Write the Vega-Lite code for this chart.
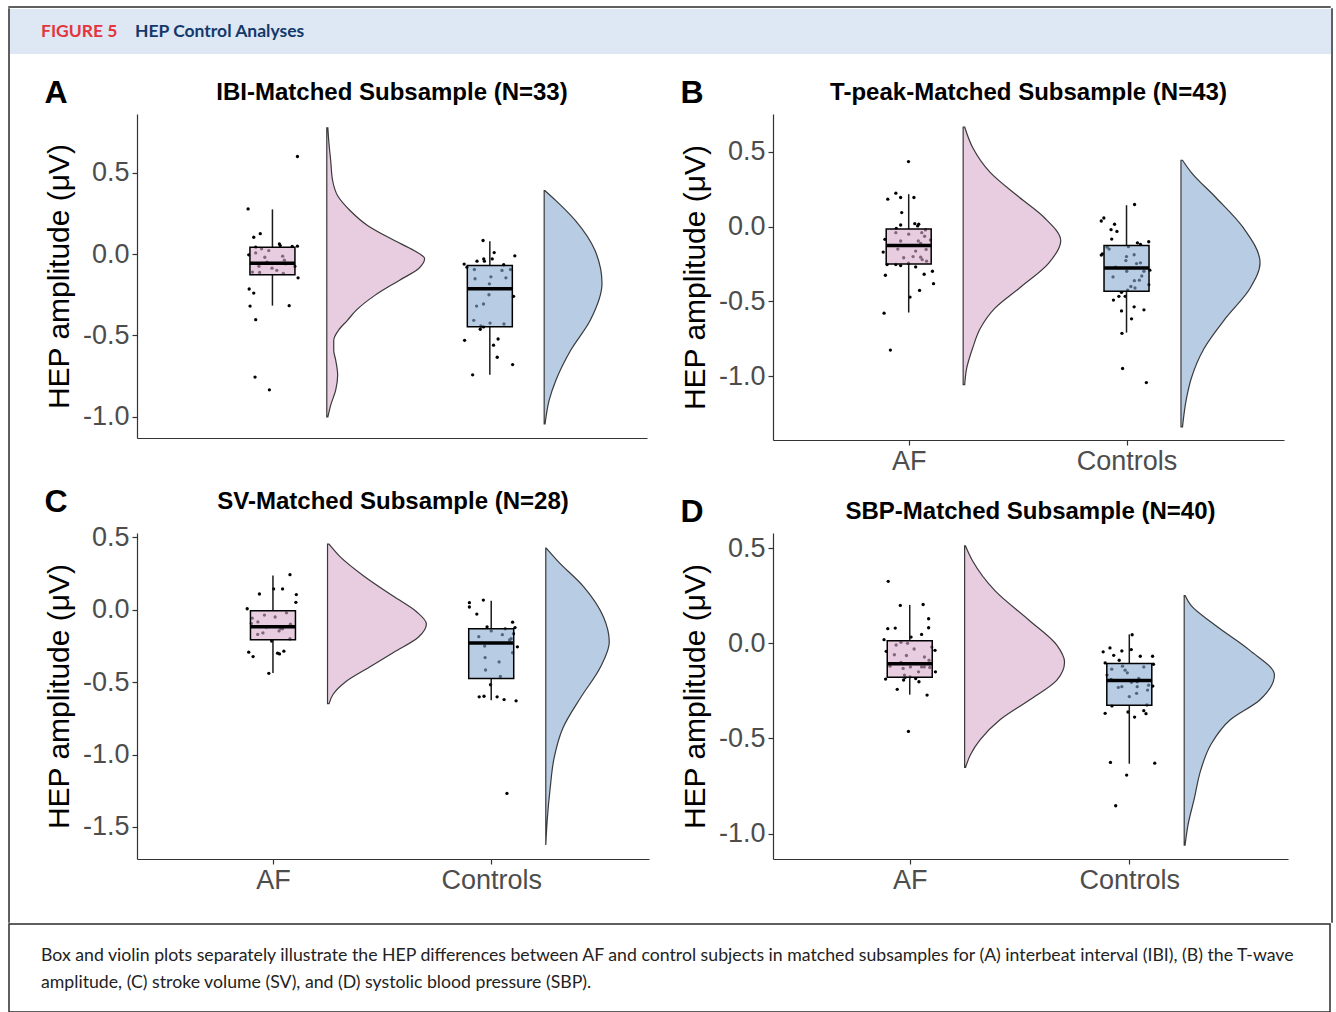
{
  "$schema": "https://vega.github.io/schema/vega-lite/v6.json",
  "background": "white",
  "padding": {"left": 8, "top": 6, "right": 0, "bottom": 0},
  "config": {
    "view": {"stroke": null},
    "concat": {"spacing": 0},
    "axis": {"grid": false, "domainColor": "#333333", "domainWidth": 1.2, "tickColor": "#333333", "tickWidth": 1.2, "tickSize": 5, "labelFont": "Liberation Sans", "labelFontSize": 27, "labelColor": "#4d4d4d", "labelPadding": 3, "titleFont": "Liberation Sans", "titleFontSize": 30, "titleFontWeight": "normal", "titleColor": "black", "titlePadding": 8},
    "title": {"font": "Liberation Sans", "fontSize": 24, "fontWeight": "bold", "color": "black", "offset": 9}
  },
  "datasets": {
    "points": [
      {"panel":"A","group":"AF","xpos":1.115,"hep":0.599},{"panel":"A","group":"AF","xpos":0.888,"hep":0.277},{"panel":"A","group":"AF","xpos":0.944,"hep":0.125},{"panel":"A","group":"AF","xpos":0.914,"hep":0.103},{"panel":"A","group":"AF","xpos":1.032,"hep":0.062},{"panel":"A","group":"AF","xpos":1.036,"hep":0.052},{"panel":"A","group":"AF","xpos":1.091,"hep":0.046},{"panel":"A","group":"AF","xpos":1.115,"hep":0.048},{"panel":"A","group":"AF","xpos":0.923,"hep":0.042},{"panel":"A","group":"AF","xpos":0.950,"hep":0.032},{"panel":"A","group":"AF","xpos":0.983,"hep":0.021},{"panel":"A","group":"AF","xpos":0.923,"hep":0.007},{"panel":"A","group":"AF","xpos":0.891,"hep":-0.005},{"panel":"A","group":"AF","xpos":1.047,"hep":-0.013},{"panel":"A","group":"AF","xpos":1.055,"hep":-0.038},{"panel":"A","group":"AF","xpos":1.103,"hep":-0.075},{"panel":"A","group":"AF","xpos":0.938,"hep":-0.075},{"panel":"A","group":"AF","xpos":0.998,"hep":-0.087},{"panel":"A","group":"AF","xpos":0.908,"hep":-0.111},{"panel":"A","group":"AF","xpos":0.941,"hep":-0.113},{"panel":"A","group":"AF","xpos":1.050,"hep":-0.119},{"panel":"A","group":"AF","xpos":1.118,"hep":-0.146},{"panel":"A","group":"AF","xpos":0.893,"hep":-0.215},{"panel":"A","group":"AF","xpos":0.914,"hep":-0.240},{"panel":"A","group":"AF","xpos":0.897,"hep":-0.320},{"panel":"A","group":"AF","xpos":1.077,"hep":-0.317},{"panel":"A","group":"AF","xpos":0.923,"hep":-0.403},{"panel":"A","group":"AF","xpos":0.920,"hep":-0.756},{"panel":"A","group":"AF","xpos":0.986,"hep":-0.834},{"panel":"A","group":"AF","xpos":0.965,"hep":-0.020},{"panel":"A","group":"AF","xpos":1.060,"hep":-0.060},{"panel":"A","group":"AF","xpos":1.020,"hep":-0.100},{"panel":"A","group":"AF","xpos":0.975,"hep":-0.050},
      {"panel":"A","group":"Controls","xpos":1.969,"hep":0.083},{"panel":"A","group":"Controls","xpos":2.020,"hep":0.009},{"panel":"A","group":"Controls","xpos":2.115,"hep":-0.011},{"panel":"A","group":"Controls","xpos":1.941,"hep":-0.044},{"panel":"A","group":"Controls","xpos":1.972,"hep":-0.030},{"panel":"A","group":"Controls","xpos":1.975,"hep":-0.044},{"panel":"A","group":"Controls","xpos":2.011,"hep":-0.030},{"panel":"A","group":"Controls","xpos":1.882,"hep":-0.062},{"panel":"A","group":"Controls","xpos":1.895,"hep":-0.081},{"panel":"A","group":"Controls","xpos":2.064,"hep":-0.066},{"panel":"A","group":"Controls","xpos":1.929,"hep":-0.095},{"panel":"A","group":"Controls","xpos":2.056,"hep":-0.101},{"panel":"A","group":"Controls","xpos":2.095,"hep":-0.095},{"panel":"A","group":"Controls","xpos":1.932,"hep":-0.152},{"panel":"A","group":"Controls","xpos":2.005,"hep":-0.140},{"panel":"A","group":"Controls","xpos":2.074,"hep":-0.146},{"panel":"A","group":"Controls","xpos":1.998,"hep":-0.183},{"panel":"A","group":"Controls","xpos":1.996,"hep":-0.250},{"panel":"A","group":"Controls","xpos":2.109,"hep":-0.260},{"panel":"A","group":"Controls","xpos":1.939,"hep":-0.320},{"panel":"A","group":"Controls","xpos":1.971,"hep":-0.307},{"panel":"A","group":"Controls","xpos":1.926,"hep":-0.407},{"panel":"A","group":"Controls","xpos":2.001,"hep":-0.424},{"panel":"A","group":"Controls","xpos":2.065,"hep":-0.430},{"panel":"A","group":"Controls","xpos":1.959,"hep":-0.442},{"panel":"A","group":"Controls","xpos":1.956,"hep":-0.462},{"panel":"A","group":"Controls","xpos":1.971,"hep":-0.448},{"panel":"A","group":"Controls","xpos":1.884,"hep":-0.530},{"panel":"A","group":"Controls","xpos":2.038,"hep":-0.522},{"panel":"A","group":"Controls","xpos":2.017,"hep":-0.560},{"panel":"A","group":"Controls","xpos":2.034,"hep":-0.634},{"panel":"A","group":"Controls","xpos":2.105,"hep":-0.679},{"panel":"A","group":"Controls","xpos":1.921,"hep":-0.742},
      {"panel":"B","group":"AF","xpos":0.999,"hep":0.435},{"panel":"B","group":"AF","xpos":0.941,"hep":0.224},{"panel":"B","group":"AF","xpos":0.904,"hep":0.184},{"panel":"B","group":"AF","xpos":0.963,"hep":0.195},{"panel":"B","group":"AF","xpos":1.024,"hep":0.195},{"panel":"B","group":"AF","xpos":0.968,"hep":0.094},{"panel":"B","group":"AF","xpos":1.028,"hep":0.020},{"panel":"B","group":"AF","xpos":1.046,"hep":0.016},{"panel":"B","group":"AF","xpos":0.963,"hep":0.011},{"panel":"B","group":"AF","xpos":1.041,"hep":0.005},{"panel":"B","group":"AF","xpos":0.943,"hep":-0.011},{"panel":"B","group":"AF","xpos":0.941,"hep":-0.040},{"panel":"B","group":"AF","xpos":1.060,"hep":-0.040},{"panel":"B","group":"AF","xpos":1.077,"hep":-0.022},{"panel":"B","group":"AF","xpos":1.073,"hep":-0.064},{"panel":"B","group":"AF","xpos":0.891,"hep":-0.085},{"panel":"B","group":"AF","xpos":0.963,"hep":-0.096},{"panel":"B","group":"AF","xpos":1.044,"hep":-0.096},{"panel":"B","group":"AF","xpos":1.055,"hep":-0.112},{"panel":"B","group":"AF","xpos":1.100,"hep":-0.089},{"panel":"B","group":"AF","xpos":0.883,"hep":-0.170},{"panel":"B","group":"AF","xpos":1.032,"hep":-0.163},{"panel":"B","group":"AF","xpos":1.080,"hep":-0.152},{"panel":"B","group":"AF","xpos":0.977,"hep":-0.208},{"panel":"B","group":"AF","xpos":1.055,"hep":-0.204},{"panel":"B","group":"AF","xpos":1.062,"hep":-0.220},{"panel":"B","group":"AF","xpos":1.082,"hep":-0.231},{"panel":"B","group":"AF","xpos":0.901,"hep":-0.253},{"panel":"B","group":"AF","xpos":0.941,"hep":-0.253},{"panel":"B","group":"AF","xpos":0.963,"hep":-0.260},{"panel":"B","group":"AF","xpos":0.999,"hep":-0.244},{"panel":"B","group":"AF","xpos":1.032,"hep":-0.269},{"panel":"B","group":"AF","xpos":1.109,"hep":-0.298},{"panel":"B","group":"AF","xpos":1.071,"hep":-0.318},{"panel":"B","group":"AF","xpos":0.893,"hep":-0.325},{"panel":"B","group":"AF","xpos":1.114,"hep":-0.381},{"panel":"B","group":"AF","xpos":1.050,"hep":-0.426},{"panel":"B","group":"AF","xpos":1.006,"hep":-0.471},{"panel":"B","group":"AF","xpos":0.887,"hep":-0.578},{"panel":"B","group":"AF","xpos":0.916,"hep":-0.825},{"panel":"B","group":"AF","xpos":0.950,"hep":-0.150},{"panel":"B","group":"AF","xpos":1.000,"hep":-0.050},{"panel":"B","group":"AF","xpos":1.020,"hep":-0.200},
      {"panel":"B","group":"Controls","xpos":2.037,"hep":0.148},{"panel":"B","group":"Controls","xpos":1.896,"hep":0.058},{"panel":"B","group":"Controls","xpos":1.884,"hep":0.038},{"panel":"B","group":"Controls","xpos":1.945,"hep":0.016},{"panel":"B","group":"Controls","xpos":1.929,"hep":-0.020},{"panel":"B","group":"Controls","xpos":1.956,"hep":-0.032},{"panel":"B","group":"Controls","xpos":1.932,"hep":-0.083},{"panel":"B","group":"Controls","xpos":2.050,"hep":-0.108},{"panel":"B","group":"Controls","xpos":2.064,"hep":-0.119},{"panel":"B","group":"Controls","xpos":2.102,"hep":-0.101},{"panel":"B","group":"Controls","xpos":2.009,"hep":-0.134},{"panel":"B","group":"Controls","xpos":1.911,"hep":-0.137},{"panel":"B","group":"Controls","xpos":2.035,"hep":-0.188},{"panel":"B","group":"Controls","xpos":1.889,"hep":-0.182},{"panel":"B","group":"Controls","xpos":1.884,"hep":-0.190},{"panel":"B","group":"Controls","xpos":1.997,"hep":-0.227},{"panel":"B","group":"Controls","xpos":2.046,"hep":-0.247},{"panel":"B","group":"Controls","xpos":2.064,"hep":-0.242},{"panel":"B","group":"Controls","xpos":2.001,"hep":-0.298},{"panel":"B","group":"Controls","xpos":2.080,"hep":-0.298},{"panel":"B","group":"Controls","xpos":2.107,"hep":-0.291},{"panel":"B","group":"Controls","xpos":1.938,"hep":-0.336},{"panel":"B","group":"Controls","xpos":2.036,"hep":-0.361},{"panel":"B","group":"Controls","xpos":2.059,"hep":-0.358},{"panel":"B","group":"Controls","xpos":2.102,"hep":-0.388},{"panel":"B","group":"Controls","xpos":2.039,"hep":-0.410},{"panel":"B","group":"Controls","xpos":2.005,"hep":-0.424},{"panel":"B","group":"Controls","xpos":1.977,"hep":-0.439},{"panel":"B","group":"Controls","xpos":1.965,"hep":-0.466},{"panel":"B","group":"Controls","xpos":1.994,"hep":-0.466},{"panel":"B","group":"Controls","xpos":1.940,"hep":-0.491},{"panel":"B","group":"Controls","xpos":1.977,"hep":-0.563},{"panel":"B","group":"Controls","xpos":2.035,"hep":-0.536},{"panel":"B","group":"Controls","xpos":2.080,"hep":-0.556},{"panel":"B","group":"Controls","xpos":2.023,"hep":-0.616},{"panel":"B","group":"Controls","xpos":1.979,"hep":-0.713},{"panel":"B","group":"Controls","xpos":1.982,"hep":-0.948},{"panel":"B","group":"Controls","xpos":2.091,"hep":-1.042},{"panel":"B","group":"Controls","xpos":1.920,"hep":-0.150},{"panel":"B","group":"Controls","xpos":2.000,"hep":-0.200},{"panel":"B","group":"Controls","xpos":2.070,"hep":-0.330},{"panel":"B","group":"Controls","xpos":1.950,"hep":-0.270},{"panel":"B","group":"Controls","xpos":2.020,"hep":-0.400},
      {"panel":"C","group":"AF","xpos":1.078,"hep":0.242},{"panel":"C","group":"AF","xpos":1.003,"hep":0.144},{"panel":"C","group":"AF","xpos":1.044,"hep":0.144},{"panel":"C","group":"AF","xpos":0.938,"hep":0.109},{"panel":"C","group":"AF","xpos":1.107,"hep":0.105},{"panel":"C","group":"AF","xpos":1.105,"hep":0.051},{"panel":"C","group":"AF","xpos":0.882,"hep":0.007},{"panel":"C","group":"AF","xpos":0.961,"hep":-0.037},{"panel":"C","group":"AF","xpos":1.062,"hep":-0.021},{"panel":"C","group":"AF","xpos":0.905,"hep":-0.058},{"panel":"C","group":"AF","xpos":0.931,"hep":-0.084},{"panel":"C","group":"AF","xpos":0.901,"hep":-0.095},{"panel":"C","group":"AF","xpos":1.036,"hep":-0.130},{"panel":"C","group":"AF","xpos":1.028,"hep":-0.146},{"panel":"C","group":"AF","xpos":1.044,"hep":-0.132},{"panel":"C","group":"AF","xpos":0.954,"hep":-0.160},{"panel":"C","group":"AF","xpos":1.078,"hep":-0.200},{"panel":"C","group":"AF","xpos":0.994,"hep":-0.216},{"panel":"C","group":"AF","xpos":0.889,"hep":-0.293},{"panel":"C","group":"AF","xpos":0.909,"hep":-0.323},{"panel":"C","group":"AF","xpos":1.021,"hep":-0.300},{"panel":"C","group":"AF","xpos":1.030,"hep":-0.305},{"panel":"C","group":"AF","xpos":1.050,"hep":-0.286},{"panel":"C","group":"AF","xpos":0.981,"hep":-0.439},{"panel":"C","group":"AF","xpos":0.970,"hep":-0.120},{"panel":"C","group":"AF","xpos":1.010,"hep":-0.050},{"panel":"C","group":"AF","xpos":0.930,"hep":-0.170},{"panel":"C","group":"AF","xpos":1.080,"hep":-0.100},
      {"panel":"C","group":"Controls","xpos":1.900,"hep":0.049},{"panel":"C","group":"Controls","xpos":1.900,"hep":0.019},{"panel":"C","group":"Controls","xpos":1.964,"hep":0.067},{"panel":"C","group":"Controls","xpos":1.934,"hep":-0.030},{"panel":"C","group":"Controls","xpos":1.981,"hep":-0.118},{"panel":"C","group":"Controls","xpos":2.098,"hep":-0.086},{"panel":"C","group":"Controls","xpos":2.109,"hep":-0.123},{"panel":"C","group":"Controls","xpos":2.064,"hep":-0.132},{"panel":"C","group":"Controls","xpos":2.000,"hep":-0.146},{"panel":"C","group":"Controls","xpos":1.943,"hep":-0.186},{"panel":"C","group":"Controls","xpos":2.051,"hep":-0.172},{"panel":"C","group":"Controls","xpos":2.102,"hep":-0.165},{"panel":"C","group":"Controls","xpos":2.084,"hep":-0.209},{"panel":"C","group":"Controls","xpos":2.091,"hep":-0.200},{"panel":"C","group":"Controls","xpos":1.970,"hep":-0.251},{"panel":"C","group":"Controls","xpos":2.120,"hep":-0.256},{"panel":"C","group":"Controls","xpos":2.098,"hep":-0.297},{"panel":"C","group":"Controls","xpos":1.972,"hep":-0.330},{"panel":"C","group":"Controls","xpos":2.036,"hep":-0.360},{"panel":"C","group":"Controls","xpos":1.974,"hep":-0.416},{"panel":"C","group":"Controls","xpos":2.042,"hep":-0.460},{"panel":"C","group":"Controls","xpos":1.997,"hep":-0.518},{"panel":"C","group":"Controls","xpos":1.945,"hep":-0.601},{"panel":"C","group":"Controls","xpos":1.967,"hep":-0.597},{"panel":"C","group":"Controls","xpos":2.027,"hep":-0.601},{"panel":"C","group":"Controls","xpos":2.059,"hep":-0.620},{"panel":"C","group":"Controls","xpos":2.114,"hep":-0.629},{"panel":"C","group":"Controls","xpos":2.072,"hep":-1.268},
      {"panel":"D","group":"AF","xpos":0.902,"hep":0.326},{"panel":"D","group":"AF","xpos":0.957,"hep":0.199},{"panel":"D","group":"AF","xpos":1.061,"hep":0.204},{"panel":"D","group":"AF","xpos":1.086,"hep":0.129},{"panel":"D","group":"AF","xpos":0.900,"hep":0.077},{"panel":"D","group":"AF","xpos":0.934,"hep":0.080},{"panel":"D","group":"AF","xpos":1.086,"hep":0.082},{"panel":"D","group":"AF","xpos":1.054,"hep":0.047},{"panel":"D","group":"AF","xpos":1.006,"hep":0.033},{"panel":"D","group":"AF","xpos":0.883,"hep":0.019},{"panel":"D","group":"AF","xpos":0.960,"hep":0.005},{"panel":"D","group":"AF","xpos":0.938,"hep":-0.009},{"panel":"D","group":"AF","xpos":1.115,"hep":-0.037},{"panel":"D","group":"AF","xpos":0.893,"hep":-0.042},{"panel":"D","group":"AF","xpos":0.985,"hep":-0.064},{"panel":"D","group":"AF","xpos":1.067,"hep":-0.072},{"panel":"D","group":"AF","xpos":1.088,"hep":-0.089},{"panel":"D","group":"AF","xpos":1.003,"hep":-0.124},{"panel":"D","group":"AF","xpos":0.970,"hep":-0.132},{"panel":"D","group":"AF","xpos":1.054,"hep":-0.124},{"panel":"D","group":"AF","xpos":1.066,"hep":-0.124},{"panel":"D","group":"AF","xpos":1.091,"hep":-0.127},{"panel":"D","group":"AF","xpos":1.117,"hep":-0.150},{"panel":"D","group":"AF","xpos":0.976,"hep":-0.167},{"panel":"D","group":"AF","xpos":0.979,"hep":-0.179},{"panel":"D","group":"AF","xpos":0.890,"hep":-0.188},{"panel":"D","group":"AF","xpos":0.972,"hep":-0.193},{"panel":"D","group":"AF","xpos":1.001,"hep":-0.176},{"panel":"D","group":"AF","xpos":1.027,"hep":-0.185},{"panel":"D","group":"AF","xpos":1.042,"hep":-0.202},{"panel":"D","group":"AF","xpos":0.943,"hep":-0.242},{"panel":"D","group":"AF","xpos":1.079,"hep":-0.272},{"panel":"D","group":"AF","xpos":0.994,"hep":-0.463},{"panel":"D","group":"AF","xpos":0.930,"hep":-0.060},{"panel":"D","group":"AF","xpos":1.020,"hep":-0.030},{"panel":"D","group":"AF","xpos":0.960,"hep":-0.100},{"panel":"D","group":"AF","xpos":1.040,"hep":-0.150},{"panel":"D","group":"AF","xpos":0.910,"hep":-0.120},{"panel":"D","group":"AF","xpos":1.100,"hep":-0.020},{"panel":"D","group":"AF","xpos":0.990,"hep":0.000},
      {"panel":"D","group":"Controls","xpos":2.013,"hep":0.045},{"panel":"D","group":"Controls","xpos":1.881,"hep":-0.045},{"panel":"D","group":"Controls","xpos":1.912,"hep":-0.024},{"panel":"D","group":"Controls","xpos":1.929,"hep":-0.063},{"panel":"D","group":"Controls","xpos":1.966,"hep":-0.040},{"panel":"D","group":"Controls","xpos":1.954,"hep":-0.089},{"panel":"D","group":"Controls","xpos":2.009,"hep":-0.033},{"panel":"D","group":"Controls","xpos":2.050,"hep":-0.068},{"panel":"D","group":"Controls","xpos":2.106,"hep":-0.068},{"panel":"D","group":"Controls","xpos":1.890,"hep":-0.103},{"panel":"D","group":"Controls","xpos":2.110,"hep":-0.110},{"panel":"D","group":"Controls","xpos":1.969,"hep":-0.120},{"panel":"D","group":"Controls","xpos":1.991,"hep":-0.155},{"panel":"D","group":"Controls","xpos":1.981,"hep":-0.141},{"panel":"D","group":"Controls","xpos":1.920,"hep":-0.136},{"panel":"D","group":"Controls","xpos":2.066,"hep":-0.124},{"panel":"D","group":"Controls","xpos":1.899,"hep":-0.167},{"panel":"D","group":"Controls","xpos":1.917,"hep":-0.190},{"panel":"D","group":"Controls","xpos":2.043,"hep":-0.185},{"panel":"D","group":"Controls","xpos":2.010,"hep":-0.205},{"panel":"D","group":"Controls","xpos":2.036,"hep":-0.202},{"panel":"D","group":"Controls","xpos":2.088,"hep":-0.220},{"panel":"D","group":"Controls","xpos":2.107,"hep":-0.225},{"panel":"D","group":"Controls","xpos":1.950,"hep":-0.232},{"panel":"D","group":"Controls","xpos":1.966,"hep":-0.228},{"panel":"D","group":"Controls","xpos":2.036,"hep":-0.228},{"panel":"D","group":"Controls","xpos":2.083,"hep":-0.246},{"panel":"D","group":"Controls","xpos":2.033,"hep":-0.263},{"panel":"D","group":"Controls","xpos":1.921,"hep":-0.329},{"panel":"D","group":"Controls","xpos":2.080,"hep":-0.324},{"panel":"D","group":"Controls","xpos":1.890,"hep":-0.368},{"panel":"D","group":"Controls","xpos":1.994,"hep":-0.361},{"panel":"D","group":"Controls","xpos":2.066,"hep":-0.354},{"panel":"D","group":"Controls","xpos":2.076,"hep":-0.370},{"panel":"D","group":"Controls","xpos":2.024,"hep":-0.388},{"panel":"D","group":"Controls","xpos":1.914,"hep":-0.626},{"panel":"D","group":"Controls","xpos":2.116,"hep":-0.630},{"panel":"D","group":"Controls","xpos":1.988,"hep":-0.693},{"panel":"D","group":"Controls","xpos":1.938,"hep":-0.854},{"panel":"D","group":"Controls","xpos":2.000,"hep":-0.280}
    ],
    "boxes": [
      {"panel":"A","group":"AF","xpos":1,"lower":-0.317,"q1":-0.127,"median":-0.056,"q3":0.042,"upper":0.274},
      {"panel":"A","group":"Controls","xpos":2,"lower":-0.742,"q1":-0.446,"median":-0.213,"q3":-0.070,"upper":0.078},
      {"panel":"B","group":"AF","xpos":1,"lower":-0.574,"q1":-0.249,"median":-0.126,"q3":-0.016,"upper":0.217},
      {"panel":"B","group":"Controls","xpos":2,"lower":-0.708,"q1":-0.432,"median":-0.276,"q3":-0.126,"upper":0.143},
      {"panel":"C","group":"AF","xpos":1,"lower":-0.437,"q1":-0.207,"median":-0.118,"q3":-0.007,"upper":0.237},
      {"panel":"C","group":"Controls","xpos":2,"lower":-0.625,"q1":-0.474,"median":-0.230,"q3":-0.132,"upper":0.063},
      {"panel":"D","group":"AF","xpos":1,"lower":-0.270,"q1":-0.179,"median":-0.108,"q3":0.014,"upper":0.202},
      {"panel":"D","group":"Controls","xpos":2,"lower":-0.633,"q1":-0.326,"median":-0.195,"q3":-0.106,"upper":0.047}
    ],
    "violins": [
      {"panel":"A","group":"AF","xpos":1.255,"hep":0.775},{"panel":"A","group":"AF","xpos":1.259,"hep":0.695},{"panel":"A","group":"AF","xpos":1.268,"hep":0.573},{"panel":"A","group":"AF","xpos":1.277,"hep":0.450},{"panel":"A","group":"AF","xpos":1.300,"hep":0.358},{"panel":"A","group":"AF","xpos":1.358,"hep":0.266},{"panel":"A","group":"AF","xpos":1.439,"hep":0.174},{"panel":"A","group":"AF","xpos":1.561,"hep":0.083},{"panel":"A","group":"AF","xpos":1.651,"hep":0.021},{"panel":"A","group":"AF","xpos":1.700,"hep":-0.028},{"panel":"A","group":"AF","xpos":1.673,"hep":-0.089},{"panel":"A","group":"AF","xpos":1.583,"hep":-0.162},{"panel":"A","group":"AF","xpos":1.471,"hep":-0.254},{"panel":"A","group":"AF","xpos":1.385,"hep":-0.346},{"panel":"A","group":"AF","xpos":1.345,"hep":-0.407},{"panel":"A","group":"AF","xpos":1.304,"hep":-0.468},{"panel":"A","group":"AF","xpos":1.282,"hep":-0.530},{"panel":"A","group":"AF","xpos":1.282,"hep":-0.591},{"panel":"A","group":"AF","xpos":1.291,"hep":-0.652},{"panel":"A","group":"AF","xpos":1.300,"hep":-0.744},{"panel":"A","group":"AF","xpos":1.291,"hep":-0.836},{"panel":"A","group":"AF","xpos":1.268,"hep":-0.928},{"panel":"A","group":"AF","xpos":1.255,"hep":-1.001},
      {"panel":"A","group":"Controls","xpos":2.254,"hep":0.389},{"panel":"A","group":"Controls","xpos":2.304,"hep":0.328},{"panel":"A","group":"Controls","xpos":2.394,"hep":0.205},{"panel":"A","group":"Controls","xpos":2.484,"hep":0.021},{"panel":"A","group":"Controls","xpos":2.516,"hep":-0.181},{"panel":"A","group":"Controls","xpos":2.462,"hep":-0.407},{"panel":"A","group":"Controls","xpos":2.372,"hep":-0.591},{"panel":"A","group":"Controls","xpos":2.304,"hep":-0.775},{"panel":"A","group":"Controls","xpos":2.273,"hep":-0.897},{"panel":"A","group":"Controls","xpos":2.254,"hep":-1.044},
      {"panel":"B","group":"AF","xpos":1.257,"hep":0.666},{"panel":"B","group":"AF","xpos":1.293,"hep":0.531},{"panel":"B","group":"AF","xpos":1.374,"hep":0.363},{"panel":"B","group":"AF","xpos":1.509,"hep":0.195},{"panel":"B","group":"AF","xpos":1.622,"hep":0.061},{"panel":"B","group":"AF","xpos":1.698,"hep":-0.094},{"panel":"B","group":"AF","xpos":1.644,"hep":-0.242},{"panel":"B","group":"AF","xpos":1.509,"hep":-0.410},{"panel":"B","group":"AF","xpos":1.396,"hep":-0.545},{"panel":"B","group":"AF","xpos":1.329,"hep":-0.679},{"panel":"B","group":"AF","xpos":1.293,"hep":-0.814},{"panel":"B","group":"AF","xpos":1.266,"hep":-0.948},{"panel":"B","group":"AF","xpos":1.257,"hep":-1.056},
      {"panel":"B","group":"Controls","xpos":2.257,"hep":0.444},{"panel":"B","group":"Controls","xpos":2.297,"hep":0.363},{"panel":"B","group":"Controls","xpos":2.410,"hep":0.195},{"panel":"B","group":"Controls","xpos":2.536,"hep":-0.007},{"panel":"B","group":"Controls","xpos":2.613,"hep":-0.242},{"panel":"B","group":"Controls","xpos":2.568,"hep":-0.410},{"panel":"B","group":"Controls","xpos":2.455,"hep":-0.612},{"panel":"B","group":"Controls","xpos":2.356,"hep":-0.814},{"panel":"B","group":"Controls","xpos":2.297,"hep":-1.015},{"panel":"B","group":"Controls","xpos":2.275,"hep":-1.150},{"panel":"B","group":"Controls","xpos":2.257,"hep":-1.338},
      {"panel":"C","group":"AF","xpos":1.257,"hep":0.453},{"panel":"C","group":"AF","xpos":1.306,"hep":0.369},{"panel":"C","group":"AF","xpos":1.419,"hep":0.230},{"panel":"C","group":"AF","xpos":1.554,"hep":0.091},{"panel":"C","group":"AF","xpos":1.658,"hep":-0.014},{"panel":"C","group":"AF","xpos":1.703,"hep":-0.098},{"panel":"C","group":"AF","xpos":1.667,"hep":-0.188},{"panel":"C","group":"AF","xpos":1.554,"hep":-0.293},{"panel":"C","group":"AF","xpos":1.441,"hep":-0.397},{"panel":"C","group":"AF","xpos":1.329,"hep":-0.502},{"panel":"C","group":"AF","xpos":1.275,"hep":-0.585},{"panel":"C","group":"AF","xpos":1.257,"hep":-0.648},
      {"panel":"C","group":"Controls","xpos":2.252,"hep":0.425},{"panel":"C","group":"Controls","xpos":2.306,"hep":0.334},{"panel":"C","group":"Controls","xpos":2.423,"hep":0.160},{"panel":"C","group":"Controls","xpos":2.514,"hep":-0.049},{"panel":"C","group":"Controls","xpos":2.541,"hep":-0.223},{"panel":"C","group":"Controls","xpos":2.500,"hep":-0.397},{"panel":"C","group":"Controls","xpos":2.410,"hep":-0.606},{"panel":"C","group":"Controls","xpos":2.329,"hep":-0.815},{"panel":"C","group":"Controls","xpos":2.288,"hep":-1.024},{"panel":"C","group":"Controls","xpos":2.270,"hep":-1.233},{"panel":"C","group":"Controls","xpos":2.257,"hep":-1.443},{"panel":"C","group":"Controls","xpos":2.250,"hep":-1.624},
      {"panel":"D","group":"AF","xpos":1.254,"hep":0.512},{"panel":"D","group":"AF","xpos":1.286,"hep":0.434},{"panel":"D","group":"AF","xpos":1.388,"hep":0.277},{"panel":"D","group":"AF","xpos":1.545,"hep":0.120},{"panel":"D","group":"AF","xpos":1.670,"hep":-0.010},{"panel":"D","group":"AF","xpos":1.705,"hep":-0.099},{"panel":"D","group":"AF","xpos":1.670,"hep":-0.193},{"panel":"D","group":"AF","xpos":1.545,"hep":-0.298},{"panel":"D","group":"AF","xpos":1.411,"hep":-0.402},{"panel":"D","group":"AF","xpos":1.321,"hep":-0.507},{"panel":"D","group":"AF","xpos":1.277,"hep":-0.585},{"panel":"D","group":"AF","xpos":1.254,"hep":-0.653},
      {"panel":"D","group":"Controls","xpos":2.254,"hep":0.251},{"panel":"D","group":"Controls","xpos":2.281,"hep":0.199},{"panel":"D","group":"Controls","xpos":2.393,"hep":0.094},{"panel":"D","group":"Controls","xpos":2.549,"hep":-0.037},{"panel":"D","group":"Controls","xpos":2.661,"hep":-0.167},{"panel":"D","group":"Controls","xpos":2.594,"hep":-0.298},{"panel":"D","group":"Controls","xpos":2.460,"hep":-0.402},{"panel":"D","group":"Controls","xpos":2.371,"hep":-0.533},{"panel":"D","group":"Controls","xpos":2.326,"hep":-0.664},{"panel":"D","group":"Controls","xpos":2.295,"hep":-0.821},{"panel":"D","group":"Controls","xpos":2.268,"hep":-0.951},{"panel":"D","group":"Controls","xpos":2.254,"hep":-1.061}
    ]
  },
  "spacing": 0,
  "vconcat": [
    {"width": 1321, "height": 0.01, "data": {"values": []}, "mark": {"type": "rule"}, "encoding": {}, "view": {"stroke": "#2b2b2b", "strokeWidth": 1.5}},
    {
      "spacing": 0,
      "hconcat": [
        {"width": 0.01, "height": 913, "data": {"values": []}, "mark": {"type": "rule"}, "encoding": {}, "view": {"stroke": "#2b2b2b", "strokeWidth": 1.5}},
        {
          "spacing": 23,
          "vconcat": [
            {
              "width": 1321, "height": 45,
              "view": {"fill": "#dde8f4", "stroke": null},
              "data": {"values": [{"part": "FIGURE 5"}, {"part": "HEP Control Analyses"}]},
              "mark": {"type": "text", "align": "left", "baseline": "middle", "font": "Lato", "fontWeight": "bold", "fontSize": 17.5},
              "encoding": {
                "text": {"field": "part"},
                "x": {"field": "part", "type": "nominal", "scale": {"type": "point", "domain": ["FIGURE 5", "HEP Control Analyses"], "range": [31, 125], "padding": 0}, "axis": null},
                "color": {"field": "part", "type": "nominal", "scale": {"domain": ["FIGURE 5", "HEP Control Analyses"], "range": ["#e4343c", "#14386a"]}, "legend": null}
              }
            },
            {
              "spacing": 0,
              "hconcat": [
                {"width": 34, "height": 1, "data": {"values": []}, "mark": {"type": "rule"}, "encoding": {}},
                {
                  "spacing": 12,
                  "vconcat": [
                    {
                      "spacing": 33,
                      "hconcat": [
                        {
                          "title": {"text": "A", "anchor": "start", "frame": "bounds", "fontSize": 32, "offset": -29},
                          "vconcat": [{
                            "width": 510, "height": 324,
                            "title": {"text": "IBI-Matched Subsample (N=33)", "anchor": "middle", "frame": "group"},
                            "layer": [
                              {"data": {"name": "violins"}, "transform": [{"filter": "datum.panel == 'A' && datum.group == 'AF'"}], "mark": {"type": "area", "orient": "horizontal", "interpolate": "monotone", "fill": "#E8CDE1", "stroke": "#3a3a3a", "strokeWidth": 1.2},
                               "encoding": {"y": {"field": "hep", "type": "quantitative", "scale": {"domain": [-1.13, 0.86], "nice": false, "zero": false}, "axis": {"values": [-1, -0.5, 0, 0.5], "labelExpr": "replace(format(datum.value, '.1f'), '\u2212', '-')", "title": "HEP amplitude (μV)"}},
                                            "x": {"field": "xpos", "type": "quantitative", "scale": {"domain": [0.4, 2.7], "nice": false, "zero": false}, "axis": {"values": [1, 2], "labels": false, "ticks": false, "title": null}},
                                            "x2": {"datum": 1.25}}},
                              {"data": {"name": "violins"}, "transform": [{"filter": "datum.panel == 'A' && datum.group == 'Controls'"}], "mark": {"type": "area", "orient": "horizontal", "interpolate": "monotone", "fill": "#B8CDE4", "stroke": "#3a3a3a", "strokeWidth": 1.2},
                               "encoding": {"y": {"field": "hep", "type": "quantitative"}, "x": {"field": "xpos", "type": "quantitative"}, "x2": {"datum": 2.25}}},
                              {"data": {"name": "points"}, "transform": [{"filter": "datum.panel == 'A'"}], "mark": {"type": "circle", "size": 11, "color": "black", "opacity": 1},
                               "encoding": {"x": {"field": "xpos", "type": "quantitative"}, "y": {"field": "hep", "type": "quantitative"}}},
                              {"data": {"name": "boxes"}, "transform": [{"filter": "datum.panel == 'A'"}], "mark": {"type": "rule", "color": "#1a1a1a", "strokeWidth": 1.5},
                               "encoding": {"x": {"field": "xpos", "type": "quantitative"}, "y": {"field": "lower", "type": "quantitative"}, "y2": {"field": "q1"}}},
                              {"data": {"name": "boxes"}, "transform": [{"filter": "datum.panel == 'A'"}], "mark": {"type": "rule", "color": "#1a1a1a", "strokeWidth": 1.5},
                               "encoding": {"x": {"field": "xpos", "type": "quantitative"}, "y": {"field": "q3", "type": "quantitative"}, "y2": {"field": "upper"}}},
                              {"data": {"name": "boxes"}, "transform": [{"filter": "datum.panel == 'A'"}], "mark": {"type": "bar", "size": 45, "fillOpacity": 0.6, "stroke": "black", "strokeWidth": 1.5},
                               "encoding": {"x": {"field": "xpos", "type": "quantitative"}, "y": {"field": "q1", "type": "quantitative"}, "y2": {"field": "q3"}, "fill": {"field": "group", "type": "nominal", "scale": {"domain": ["AF", "Controls"], "range": ["#D9ACCD", "#89ACD2"]}, "legend": null}}},
                              {"data": {"name": "boxes"}, "transform": [{"filter": "datum.panel == 'A'"}], "mark": {"type": "tick", "orient": "horizontal", "size": 45, "thickness": 3.5, "color": "black", "opacity": 1},
                               "encoding": {"x": {"field": "xpos", "type": "quantitative"}, "y": {"field": "median", "type": "quantitative"}}}
                            ]
                          }]
                        },
                        {
                          "title": {"text": "B", "anchor": "start", "frame": "bounds", "fontSize": 32, "offset": -29},
                          "vconcat": [{
                            "width": 511, "height": 326,
                            "title": {"text": "T-peak-Matched Subsample (N=43)", "anchor": "middle", "frame": "group"},
                            "layer": [
                              {"data": {"name": "violins"}, "transform": [{"filter": "datum.panel == 'B' && datum.group == 'AF'"}], "mark": {"type": "area", "orient": "horizontal", "interpolate": "monotone", "fill": "#E8CDE1", "stroke": "#3a3a3a", "strokeWidth": 1.2},
                               "encoding": {"y": {"field": "hep", "type": "quantitative", "scale": {"domain": [-1.426, 0.753], "nice": false, "zero": false}, "axis": {"values": [-1, -0.5, 0, 0.5], "labelExpr": "replace(format(datum.value, '.1f'), '\u2212', '-')", "title": "HEP amplitude (μV)"}},
                                            "x": {"field": "xpos", "type": "quantitative", "scale": {"domain": [0.4, 2.7], "nice": false, "zero": false}, "axis": {"values": [1, 2], "labelExpr": "datum.value == 1 ? 'AF' : 'Controls'", "title": null}},
                                            "x2": {"datum": 1.25}}},
                              {"data": {"name": "violins"}, "transform": [{"filter": "datum.panel == 'B' && datum.group == 'Controls'"}], "mark": {"type": "area", "orient": "horizontal", "interpolate": "monotone", "fill": "#B8CDE4", "stroke": "#3a3a3a", "strokeWidth": 1.2},
                               "encoding": {"y": {"field": "hep", "type": "quantitative"}, "x": {"field": "xpos", "type": "quantitative"}, "x2": {"datum": 2.25}}},
                              {"data": {"name": "points"}, "transform": [{"filter": "datum.panel == 'B'"}], "mark": {"type": "circle", "size": 11, "color": "black", "opacity": 1},
                               "encoding": {"x": {"field": "xpos", "type": "quantitative"}, "y": {"field": "hep", "type": "quantitative"}}},
                              {"data": {"name": "boxes"}, "transform": [{"filter": "datum.panel == 'B'"}], "mark": {"type": "rule", "color": "#1a1a1a", "strokeWidth": 1.5},
                               "encoding": {"x": {"field": "xpos", "type": "quantitative"}, "y": {"field": "lower", "type": "quantitative"}, "y2": {"field": "q1"}}},
                              {"data": {"name": "boxes"}, "transform": [{"filter": "datum.panel == 'B'"}], "mark": {"type": "rule", "color": "#1a1a1a", "strokeWidth": 1.5},
                               "encoding": {"x": {"field": "xpos", "type": "quantitative"}, "y": {"field": "q3", "type": "quantitative"}, "y2": {"field": "upper"}}},
                              {"data": {"name": "boxes"}, "transform": [{"filter": "datum.panel == 'B'"}], "mark": {"type": "bar", "size": 45, "fillOpacity": 0.6, "stroke": "black", "strokeWidth": 1.5},
                               "encoding": {"x": {"field": "xpos", "type": "quantitative"}, "y": {"field": "q1", "type": "quantitative"}, "y2": {"field": "q3"}, "fill": {"field": "group", "type": "nominal", "scale": {"domain": ["AF", "Controls"], "range": ["#D9ACCD", "#89ACD2"]}, "legend": null}}},
                              {"data": {"name": "boxes"}, "transform": [{"filter": "datum.panel == 'B'"}], "mark": {"type": "tick", "orient": "horizontal", "size": 45, "thickness": 3.5, "color": "black", "opacity": 1},
                               "encoding": {"x": {"field": "xpos", "type": "quantitative"}, "y": {"field": "median", "type": "quantitative"}}}
                            ]
                          }]
                        }
                      ]
                    },
                    {
                      "spacing": 31,
                      "hconcat": [
                        {
                          "title": {"text": "C", "anchor": "start", "frame": "bounds", "fontSize": 32, "offset": -29},
                          "vconcat": [{
                            "width": 512, "height": 326,
                            "title": {"text": "SV-Matched Subsample (N=28)", "anchor": "middle", "frame": "group"},
                            "layer": [
                              {"data": {"name": "violins"}, "transform": [{"filter": "datum.panel == 'C' && datum.group == 'AF'"}], "mark": {"type": "area", "orient": "horizontal", "interpolate": "monotone", "fill": "#E8CDE1", "stroke": "#3a3a3a", "strokeWidth": 1.2},
                               "encoding": {"y": {"field": "hep", "type": "quantitative", "scale": {"domain": [-1.721, 0.53], "nice": false, "zero": false}, "axis": {"values": [-1.5, -1, -0.5, 0, 0.5], "labelExpr": "replace(format(datum.value, '.1f'), '\u2212', '-')", "title": "HEP amplitude (μV)"}},
                                            "x": {"field": "xpos", "type": "quantitative", "scale": {"domain": [0.4, 2.7], "nice": false, "zero": false}, "axis": {"values": [1, 2], "labelExpr": "datum.value == 1 ? 'AF' : 'Controls'", "title": null}},
                                            "x2": {"datum": 1.25}}},
                              {"data": {"name": "violins"}, "transform": [{"filter": "datum.panel == 'C' && datum.group == 'Controls'"}], "mark": {"type": "area", "orient": "horizontal", "interpolate": "monotone", "fill": "#B8CDE4", "stroke": "#3a3a3a", "strokeWidth": 1.2},
                               "encoding": {"y": {"field": "hep", "type": "quantitative"}, "x": {"field": "xpos", "type": "quantitative"}, "x2": {"datum": 2.25}}},
                              {"data": {"name": "points"}, "transform": [{"filter": "datum.panel == 'C'"}], "mark": {"type": "circle", "size": 11, "color": "black", "opacity": 1},
                               "encoding": {"x": {"field": "xpos", "type": "quantitative"}, "y": {"field": "hep", "type": "quantitative"}}},
                              {"data": {"name": "boxes"}, "transform": [{"filter": "datum.panel == 'C'"}], "mark": {"type": "rule", "color": "#1a1a1a", "strokeWidth": 1.5},
                               "encoding": {"x": {"field": "xpos", "type": "quantitative"}, "y": {"field": "lower", "type": "quantitative"}, "y2": {"field": "q1"}}},
                              {"data": {"name": "boxes"}, "transform": [{"filter": "datum.panel == 'C'"}], "mark": {"type": "rule", "color": "#1a1a1a", "strokeWidth": 1.5},
                               "encoding": {"x": {"field": "xpos", "type": "quantitative"}, "y": {"field": "q3", "type": "quantitative"}, "y2": {"field": "upper"}}},
                              {"data": {"name": "boxes"}, "transform": [{"filter": "datum.panel == 'C'"}], "mark": {"type": "bar", "size": 45, "fillOpacity": 0.6, "stroke": "black", "strokeWidth": 1.5},
                               "encoding": {"x": {"field": "xpos", "type": "quantitative"}, "y": {"field": "q1", "type": "quantitative"}, "y2": {"field": "q3"}, "fill": {"field": "group", "type": "nominal", "scale": {"domain": ["AF", "Controls"], "range": ["#D9ACCD", "#89ACD2"]}, "legend": null}}},
                              {"data": {"name": "boxes"}, "transform": [{"filter": "datum.panel == 'C'"}], "mark": {"type": "tick", "orient": "horizontal", "size": 45, "thickness": 3.5, "color": "black", "opacity": 1},
                               "encoding": {"x": {"field": "xpos", "type": "quantitative"}, "y": {"field": "median", "type": "quantitative"}}}
                            ]
                          }]
                        },
                        {
                          "title": {"text": "D", "anchor": "start", "frame": "bounds", "fontSize": 32, "offset": -29},
                          "vconcat": [{
                            "width": 515, "height": 326,
                            "title": {"text": "SBP-Matched Subsample (N=40)", "anchor": "middle", "frame": "group"},
                            "layer": [
                              {"data": {"name": "violins"}, "transform": [{"filter": "datum.panel == 'D' && datum.group == 'AF'"}], "mark": {"type": "area", "orient": "horizontal", "interpolate": "monotone", "fill": "#E8CDE1", "stroke": "#3a3a3a", "strokeWidth": 1.2},
                               "encoding": {"y": {"field": "hep", "type": "quantitative", "scale": {"domain": [-1.134, 0.58], "nice": false, "zero": false}, "axis": {"values": [-1, -0.5, 0, 0.5], "labelExpr": "replace(format(datum.value, '.1f'), '\u2212', '-')", "title": "HEP amplitude (μV)"}},
                                            "x": {"field": "xpos", "type": "quantitative", "scale": {"domain": [0.4, 2.7], "nice": false, "zero": false}, "axis": {"values": [1, 2], "labelExpr": "datum.value == 1 ? 'AF' : 'Controls'", "title": null}},
                                            "x2": {"datum": 1.25}}},
                              {"data": {"name": "violins"}, "transform": [{"filter": "datum.panel == 'D' && datum.group == 'Controls'"}], "mark": {"type": "area", "orient": "horizontal", "interpolate": "monotone", "fill": "#B8CDE4", "stroke": "#3a3a3a", "strokeWidth": 1.2},
                               "encoding": {"y": {"field": "hep", "type": "quantitative"}, "x": {"field": "xpos", "type": "quantitative"}, "x2": {"datum": 2.25}}},
                              {"data": {"name": "points"}, "transform": [{"filter": "datum.panel == 'D'"}], "mark": {"type": "circle", "size": 11, "color": "black", "opacity": 1},
                               "encoding": {"x": {"field": "xpos", "type": "quantitative"}, "y": {"field": "hep", "type": "quantitative"}}},
                              {"data": {"name": "boxes"}, "transform": [{"filter": "datum.panel == 'D'"}], "mark": {"type": "rule", "color": "#1a1a1a", "strokeWidth": 1.5},
                               "encoding": {"x": {"field": "xpos", "type": "quantitative"}, "y": {"field": "lower", "type": "quantitative"}, "y2": {"field": "q1"}}},
                              {"data": {"name": "boxes"}, "transform": [{"filter": "datum.panel == 'D'"}], "mark": {"type": "rule", "color": "#1a1a1a", "strokeWidth": 1.5},
                               "encoding": {"x": {"field": "xpos", "type": "quantitative"}, "y": {"field": "q3", "type": "quantitative"}, "y2": {"field": "upper"}}},
                              {"data": {"name": "boxes"}, "transform": [{"filter": "datum.panel == 'D'"}], "mark": {"type": "bar", "size": 45, "fillOpacity": 0.6, "stroke": "black", "strokeWidth": 1.5},
                               "encoding": {"x": {"field": "xpos", "type": "quantitative"}, "y": {"field": "q1", "type": "quantitative"}, "y2": {"field": "q3"}, "fill": {"field": "group", "type": "nominal", "scale": {"domain": ["AF", "Controls"], "range": ["#D9ACCD", "#89ACD2"]}, "legend": null}}},
                              {"data": {"name": "boxes"}, "transform": [{"filter": "datum.panel == 'D'"}], "mark": {"type": "tick", "orient": "horizontal", "size": 45, "thickness": 3.5, "color": "black", "opacity": 1},
                               "encoding": {"x": {"field": "xpos", "type": "quantitative"}, "y": {"field": "median", "type": "quantitative"}}}
                            ]
                          }]
                        }
                      ]
                    }
                  ]
                }
              ]
            }
          ]
        },
        {"width": 0.01, "height": 913, "data": {"values": []}, "mark": {"type": "rule"}, "encoding": {}, "view": {"stroke": "#2b2b2b", "strokeWidth": 1.5}}
      ]
    },
    {
      "width": 1321, "height": 88,
      "view": {"stroke": "#2b2b2b", "strokeWidth": 1.5},
      "data": {"values": [
        {"line": 1, "text": "Box and violin plots separately illustrate the HEP differences between AF and control subjects in matched subsamples for (A) interbeat interval (IBI), (B) the T-wave"},
        {"line": 2, "text": "amplitude, (C) stroke volume (SV), and (D) systolic blood pressure (SBP)."}
      ]},
      "mark": {"type": "text", "align": "left", "baseline": "middle", "font": "Lato", "fontSize": 17.7, "color": "#222222"},
      "encoding": {
        "text": {"field": "text"},
        "x": {"field": "line", "type": "ordinal", "scale": {"type": "point", "range": [32, 32], "padding": 0}, "axis": null},
        "y": {"field": "line", "type": "ordinal", "scale": {"type": "point", "range": [32, 59], "padding": 0}, "axis": null}
      }
    }
  ]
}
